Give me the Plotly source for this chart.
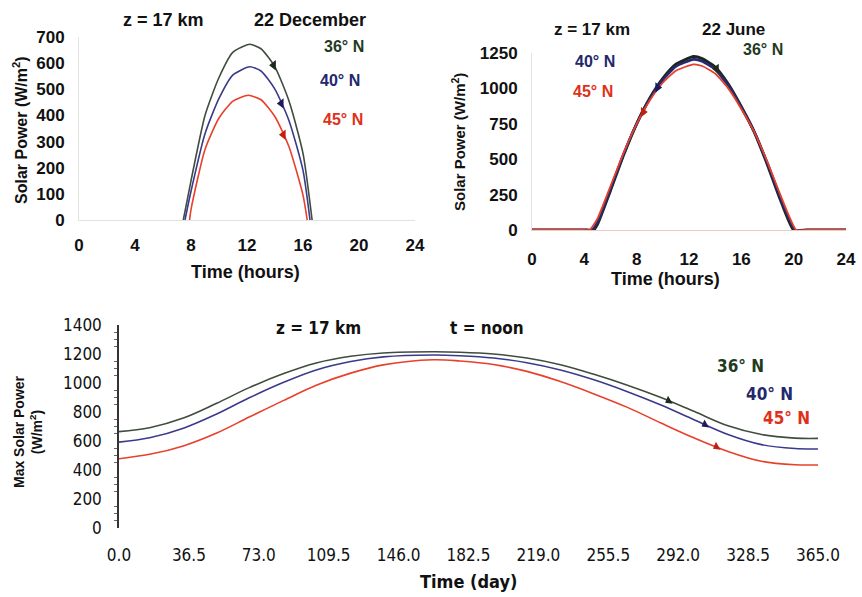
import numpy as np
import plotly.graph_objects as go

# ---------------- data ----------------
LATS = ["36° N", "40° N", "45° N"]

# 22 December (hours, W/m2)
DEC_H_36 = [7.45, 8, 9, 10, 11, 12.2, 13, 14, 15, 16, 16.65]
DEC_P_36 = [0, 150, 400, 545, 642, 672, 655, 585, 455, 255, 0]
DEC_H_40 = [7.57, 8, 9, 10, 11, 12.2, 13, 14, 15, 16, 16.5]
DEC_P_40 = [0, 110, 330, 465, 555, 586, 570, 500, 380, 190, 0]
DEC_H_45 = [7.9, 8, 9, 10, 11, 12.1, 13, 14, 15, 16, 16.3]
DEC_P_45 = [0, 40, 270, 390, 455, 477, 460, 395, 280, 95, 0]

# 22 June (hours, W/m2)
JUN_H_36 = [0, 1, 2, 3, 4, 4.7, 5, 6, 7, 8, 9, 10, 11, 12.35, 13, 14, 15, 16, 17, 18, 19, 20, 21, 22, 23, 24]
JUN_P_36 = [0, 0, 0, 0, 0, 0, 40, 280, 530, 750, 930, 1070, 1170, 1225, 1210, 1150, 1030, 870, 690, 460, 210, 0, 0, 0, 0, 0]
JUN_H_40 = [0, 1, 2, 3, 4, 4.6, 5, 6, 7, 8, 9, 10, 11, 12.35, 13, 14, 15, 16, 17, 18, 19, 20.1, 21, 22, 23, 24]
JUN_P_40 = [0, 0, 0, 0, 0, 0, 55, 290, 535, 750, 925, 1060, 1155, 1205, 1192, 1135, 1020, 865, 690, 470, 225, 0, 0, 0, 0, 0]
JUN_H_45 = [0, 1, 2, 3, 4, 4.4, 5, 6, 7, 8, 9, 10, 11, 12.35, 13, 14, 15, 16, 17, 18, 19, 20.2, 21, 22, 23, 24]
JUN_P_45 = [0, 0, 0, 0, 0, 0, 80, 310, 545, 750, 915, 1040, 1125, 1170, 1158, 1105, 1000, 855, 690, 480, 245, 0, 0, 0, 0, 0]

# Noon maximum over the year (day, W/m2)
DAYS = [0, 16, 34, 51, 68, 86, 103, 121, 138, 164, 178, 195.5, 213, 230.5, 248, 265.5,
        283, 300.5, 318, 335.5, 353, 365]
NOON_36 = [665, 692, 760, 860, 968, 1065, 1138, 1184, 1207, 1215, 1212, 1200, 1172, 1126,
           1060, 985, 900, 803, 705, 645, 620, 618]
NOON_40 = [592, 622, 690, 786, 898, 1005, 1090, 1148, 1180, 1193, 1188, 1172, 1140, 1090,
           1022, 940, 848, 745, 645, 575, 548, 545]
NOON_45 = [478, 508, 568, 655, 765, 880, 985, 1068, 1125, 1160, 1152, 1128, 1080, 1010,
           925, 832, 724, 620, 528, 460, 436, 435]

HOUR_TICKS = [0, 4, 8, 12, 16, 20, 24]
DAY_TICKS = [0, 36.5, 73, 109.5, 146, 182.5, 219, 255.5, 292, 328.5, 365]

LINE_COLORS = ["#3e4d3e", "#3a3a8c", "#e8402a"]
LABEL_COLORS = ["#1f3a1f", "#23276b", "#e0301a"]
JUNE_COLORS = ["#1c241c", "#262a70", "#e8402a"]
HEAD_COLORS = ["#1f2a1f", "#1c1c5a", "#c02010"]

W, H = 862, 597
def px(x):
    return x / W
def py(y):
    return 1 - y / H

fig = go.Figure()

BOLD = dict(family="Arial, Liberation Sans, sans-serif", size=17, color="#111", weight="bold")
NARROW = dict(family="DejaVu Sans Condensed, Arial, sans-serif", size=16, color="#111")

for h, p, c in zip([DEC_H_36, DEC_H_40, DEC_H_45], [DEC_P_36, DEC_P_40, DEC_P_45], LINE_COLORS):
    fig.add_trace(go.Scatter(x=h, y=p, mode="lines", xaxis="x", yaxis="y",
                             line=dict(color=c, width=1.6, shape="spline", smoothing=0.6),
                             showlegend=False))
for h, p, c, w in zip([JUN_H_36, JUN_H_40, JUN_H_45], [JUN_P_36, JUN_P_40, JUN_P_45],
                      JUNE_COLORS, [3, 2.6, 1.8]):
    fig.add_trace(go.Scatter(x=h, y=p, mode="lines", xaxis="x2", yaxis="y2",
                             line=dict(color=c, width=w, shape="spline", smoothing=0.5),
                             showlegend=False))
for p, c in zip([NOON_36, NOON_40, NOON_45], LINE_COLORS):
    fig.add_trace(go.Scatter(x=DAYS, y=p, mode="lines", xaxis="x3", yaxis="y3",
                             line=dict(color=c, width=1.6, shape="spline", smoothing=1.0),
                             showlegend=False))

# arrowheads pointing at the curves (positions interpolated on the series)
def heads(xa, ya, series, xs_list, symbols, angle, size=9):
    for (xs, ys), xv, c, s in zip(series, xs_list, HEAD_COLORS, symbols):
        yv = float(np.interp(xv, xs, ys))
        fig.add_trace(go.Scatter(x=[xv], y=[yv], mode="markers", xaxis=xa, yaxis=ya,
                                 marker=dict(symbol=s, size=size, color=c, angle=angle),
                                 showlegend=False))

heads("x", "y", [(DEC_H_36, DEC_P_36), (DEC_H_40, DEC_P_40), (DEC_H_45, DEC_P_45)],
      [13.9, 14.45, 14.6], ["triangle-left"] * 3, 0)
heads("x2", "y2", [(JUN_H_36, JUN_P_36), (JUN_H_40, JUN_P_40), (JUN_H_45, JUN_P_45)],
      [14.1, 9.6, 8.5], ["triangle-left", "triangle-right", "triangle-right"], 0)
heads("x3", "y3", [(DAYS, NOON_36), (DAYS, NOON_40), (DAYS, NOON_45)],
      [287, 306, 312], ["triangle-left"] * 3, -30, size=8)

ann = []
def text(x, y, t, font, **kw):
    d = dict(x=px(x), y=py(y), xref="paper", yref="paper", text=t, showarrow=False,
             font=font, xanchor="center", yanchor="middle")
    d.update(kw)
    ann.append(d)

text(163, 20, "<b>z = 17 km</b>", dict(BOLD, size=18))
text(310, 20, "<b>22 December</b>", dict(BOLD, size=18))
text(344, 47, "<b>36° N</b>", dict(BOLD, size=16, color=LABEL_COLORS[0]))
text(340, 80, "<b>40° N</b>", dict(BOLD, size=16, color=LABEL_COLORS[1]))
text(343, 120, "<b>45° N</b>", dict(BOLD, size=16, color=LABEL_COLORS[2]))
text(245, 272, "<b>Time (hours)</b>", dict(BOLD, size=18))
text(20, 130, "<b>Solar Power (W/m<sup>2</sup>)</b>", dict(BOLD, size=16), textangle=-90)

text(592, 30, "<b>z = 17 km</b>", dict(BOLD, size=17))
text(733, 30, "<b>22 June</b>", dict(BOLD, size=17))
text(763, 50, "<b>36° N</b>", dict(BOLD, size=16, color=LABEL_COLORS[0]))
text(595, 62, "<b>40° N</b>", dict(BOLD, size=16, color=LABEL_COLORS[1]))
text(593, 92, "<b>45° N</b>", dict(BOLD, size=16, color=LABEL_COLORS[2]))
text(665, 279, "<b>Time (hours)</b>", dict(BOLD, size=18))
text(458, 142, "<b>Solar Power (W/m<sup>2</sup>)</b>", dict(BOLD, size=15), textangle=-90)

text(318, 328, "<b>z = 17 km</b>", dict(NARROW, size=17))
text(487, 328, "<b>t = noon</b>", dict(NARROW, size=17))
text(740, 366, "<b>36° N</b>", dict(NARROW, size=17, color=LABEL_COLORS[0]))
text(769, 394, "<b>40° N</b>", dict(NARROW, size=17, color=LABEL_COLORS[1]))
text(786, 418, "<b>45° N</b>", dict(NARROW, size=17, color=LABEL_COLORS[2]))
text(468, 581, "<b>Time (day)</b>", dict(NARROW, size=18))
text(28, 432, "<b>Max Solar Power<br>(W/m<sup>2</sup>)</b>", dict(BOLD, size=14), textangle=-90)

common_x = dict(showgrid=False, zeroline=False, ticks="", showline=True, linecolor="#e2e2e2",
                linewidth=1, automargin=False)
common_y = dict(showgrid=False, zeroline=False, ticks="", showline=True, linecolor="#e2e2e2",
                linewidth=1, automargin=False)

fig.update_layout(
    width=W, height=H, margin=dict(l=0, r=0, t=0, b=0),
    paper_bgcolor="white", plot_bgcolor="white", showlegend=False,
    annotations=ann,
    xaxis=dict(common_x, domain=[px(79), px(415)], range=[0, 24], tickvals=HOUR_TICKS,
               tickfont=BOLD, ticklabelstandoff=10, anchor="y"),
    yaxis=dict(common_y, domain=[py(220), py(37)], range=[0, 700], dtick=100,
               tickfont=BOLD, ticklabelstandoff=10, anchor="x"),
    xaxis2=dict(common_x, domain=[px(532), px(846)], range=[0, 24], tickvals=HOUR_TICKS,
                tickfont=BOLD, ticklabelstandoff=14, anchor="y2", linecolor="#f0c8c0"),
    yaxis2=dict(common_y, domain=[py(230), py(53)], range=[0, 1250], dtick=250,
                tickfont=BOLD, ticklabelstandoff=10, anchor="x2"),
    xaxis3=dict(common_x, domain=[px(119), px(818)], range=[0, 365], tickvals=DAY_TICKS,
                tickformat=".1f", tickfont=dict(NARROW, size=17), ticklabelstandoff=15,
                anchor="y3", showline=False),
    yaxis3=dict(common_y, domain=[py(528), py(325)], range=[0, 1400], dtick=200,
                tickfont=dict(NARROW, size=17), ticklabelstandoff=12, anchor="x3",
                linecolor="#333", linewidth=1.5,
                minor=dict(dtick=50, ticks="outside", ticklen=3, tickcolor="#666")),
)

fig.write_html("out.html", post_script="document.body.style.margin='0px';")
